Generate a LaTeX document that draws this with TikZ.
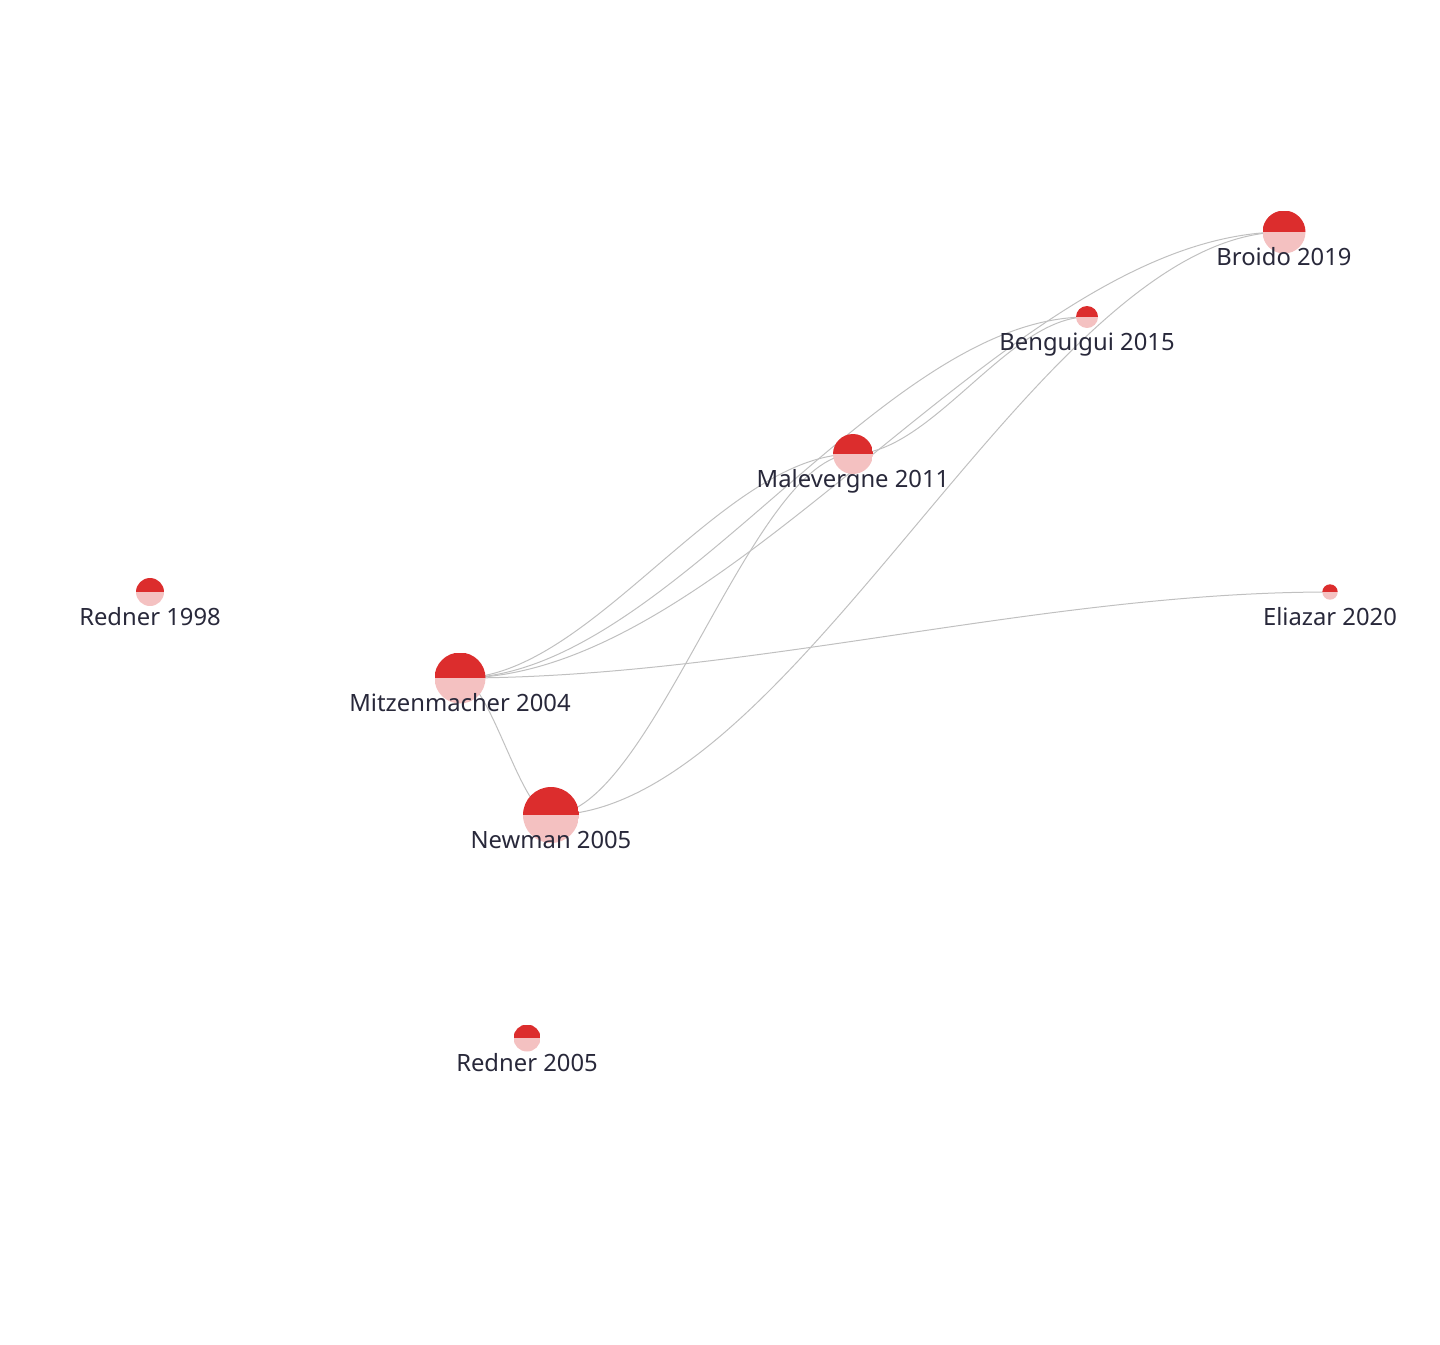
\documentclass[tikz,border=0pt]{standalone}
\usepackage{fontspec}
\setmainfont{Noto Sans}
\usetikzlibrary{calc,backgrounds}

\definecolor{paperred}{RGB}{220,45,45}
\definecolor{paperpink}{RGB}{244,193,193}
\definecolor{tagink}{RGB}{40,40,58}
\definecolor{citegray}{RGB}{192,192,192}

\tikzset{
  paper/.style={circle, inner sep=0pt, minimum size=#1,
    path picture={
      \fill[paperpink] (path picture bounding box.south west) rectangle (path picture bounding box.east);
      \fill[paperred] (path picture bounding box.west) rectangle (path picture bounding box.north east);
    }},
  tag/.style={text=tagink, font=\fontsize{11.9}{14}\selectfont, inner sep=0pt, text height=8.5pt, text depth=0pt},
  cite/.style={draw=citegray, line width=0.5pt,
    to path={let \p1=(\tikztostart), \p2=(\tikztotarget) in
      .. controls ({\x1+(\x2-\x1)/3},\y1) and ({\x2-(\x2-\x1)/3},\y2) .. (\tikztotarget)}}
}

\begin{document}
\begin{tikzpicture}[x=0.5pt, y=-0.5pt, node distance=12.6pt]
            \useasboundingbox (0,0) rectangle (1440,1344);

            \node[paper=14pt] (r98) at (150,592) {};
            \node[paper=25.5pt] (mit) at (460,678) {};
            \node[paper=28pt] (new) at (551,815) {};
            \node[paper=13.5pt] (r05) at (527,1038) {};
            \node[paper=20pt] (mal) at (853,454) {};
            \node[paper=11pt] (ben) at (1087,317) {};
            \node[paper=21.5pt] (bro) at (1284,232) {};
            \node[paper=7.7pt] (eli) at (1330,592) {};

            \node[tag, below of=r98] (r98t) {Redner 1998};
            \node[tag, below of=mit] (mitt) {Mitzenmacher 2004};
            \node[tag, below of=new] (newt) {Newman 2005};
            \node[tag, below of=r05] (r05t) {Redner 2005};
            \node[tag, below of=mal] (malt) {Malevergne 2011};
            \node[tag, below of=ben] (bent) {Benguigui 2015};
            \node[tag, below of=bro] (brot) {Broido 2019};
            \node[tag, below of=eli] (elit) {Eliazar 2020};

            % citations run behind the papers
            \begin{scope}[on background layer]
                \draw[cite] (mit.center) to (new.center);
                \draw[cite] (mit.center) to (mal.center);
                \draw[cite] (mit.center) to (ben.center);
                \draw[cite] (mit.center) to (bro.center);
                \draw[cite] (mit.center) to (eli.center);
                \draw[cite] (new.center) to (mal.center);
                \draw[cite] (new.center) to (bro.center);
                \draw[cite] (mal.center) to (ben.center);
            \end{scope}
        \end{tikzpicture}
\end{document}
